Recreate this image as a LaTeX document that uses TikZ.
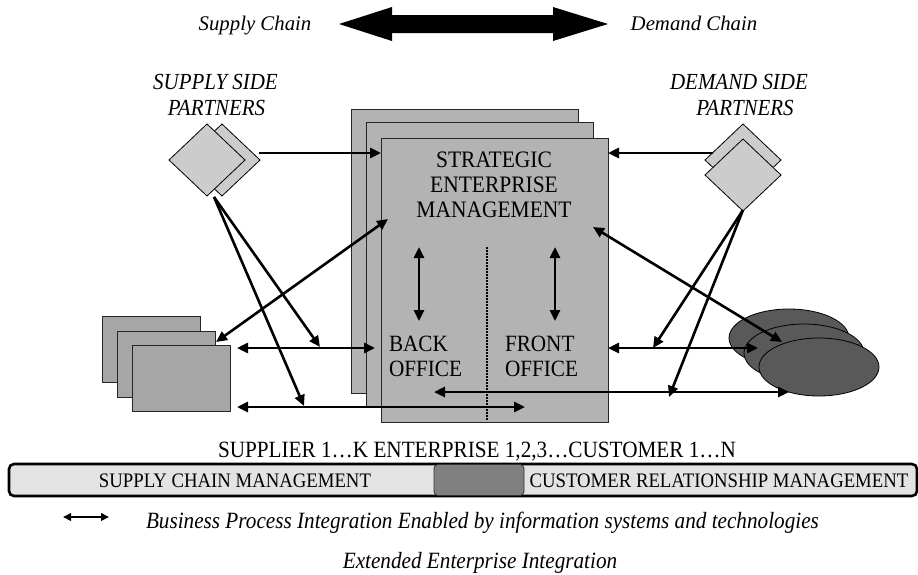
\documentclass[tikz,border=0pt]{standalone}
\usepackage{fontspec}
\setmainfont{Liberation Serif}[FakeStretch=0.91]
\newfontfamily\chainfont{Liberation Serif}
\usetikzlibrary{arrows.meta,shapes.geometric}
\definecolor{diam}{HTML}{CCCCCC}
\definecolor{entbox}{HTML}{B3B3B3}
\definecolor{supbox}{HTML}{A6A6A6}
\definecolor{custell}{HTML}{595959}
\definecolor{barlight}{HTML}{E3E3E3}
\definecolor{barmid}{HTML}{808080}

\begin{document}
\begin{tikzpicture}[x=1pt,y=-1pt,
  every node/.style={inner sep=0pt, outer sep=0pt},
  flow/.style={line width=2.6pt, -{Triangle[length=11pt,width=10pt]}},
  flowtwo/.style={line width=2.6pt, {Triangle[length=11pt,width=10pt]}-{Triangle[length=11pt,width=10pt]}},
  partner/.style={shape=diamond, draw=black, line width=0.8pt, fill=diam,
    minimum width=76pt, minimum height=72pt},
  entpage/.style={rectangle, draw=black!85, line width=1pt, fill=entbox,
    minimum width=227pt, minimum height=284pt},
  suppage/.style={rectangle, draw=black!85, line width=1pt, fill=supbox,
    minimum width=98pt, minimum height=66pt},
  custblob/.style={ellipse, draw=black, line width=0.8pt, fill=custell,
    minimum width=120pt, minimum height=58pt},
  itl/.style={anchor=base, font=\fontsize{23}{27}\selectfont\itshape},
  chainlbl/.style={anchor=base, font=\chainfont\fontsize{20.8}{24}\selectfont\itshape},
  caps/.style={anchor=base, font=\fontsize{23.3}{27}\selectfont},
  entlbl/.style={anchor=base, font=\fontsize{23.6}{27}\selectfont},
  barlbl/.style={anchor=base, font=\fontsize{20.6}{24}\selectfont},
  legend/.style={anchor=base, font=\fontsize{23.3}{27}\selectfont\itshape}
]
\useasboundingbox (0,0) rectangle (918,574);

% ---- top: supply chain <-> demand chain ----
\node[chainlbl] (sc) at (255,30) {Supply Chain};
\node[chainlbl] (dc) at (694,30) {Demand Chain};
\fill[black] (339,24) -- (392,7) -- (392,15) -- (553,15) -- (553,7) -- (608,24)
  -- (553,41) -- (553,33) -- (392,33) -- (392,41) -- cycle;

% ---- partner labels ----
\node[itl] (ssd1) at (215.5,89) {SUPPLY SIDE};
\node[itl] (ssd2) at (216.5,115) {PARTNERS};
\node[itl] (dsd1) at (739,89) {DEMAND SIDE};
\node[itl] (dsd2) at (745,115) {PARTNERS};

% ---- supply side partners (diamonds) ----
\node[partner] (sp2) at (222,160) {};
\node[partner] (sp1) at (207,160) {};

% ---- demand side partners (diamonds) ----
\node[partner] (dp2) at (743,160) {};
\node[partner] (dp1) at (743,175) {};

% ---- enterprise pages ----
\node[entpage] (ent3) at (464.5,251) {};
\node[entpage] (ent2) at (479.5,264.5) {};
\node[entpage] (ent1) at (494.5,280) {};

\node[entlbl] (t1) at (494,167) {STRATEGIC};
\node[entlbl] (t2) at (494,192) {ENTERPRISE};
\node[entlbl] (t3) at (494,217) {MANAGEMENT};

\node[caps, anchor=base west] (bo1) at (389,351) {BACK};
\node[caps, anchor=base west] (bo2) at (389,376) {OFFICE};
\node[caps, anchor=base west] (fo1) at (505,351) {FRONT};
\node[caps, anchor=base west] (fo2) at (505,376) {OFFICE};

% back/front office divider
\coordinate (divtop) at (487,247);
\coordinate (divbot) at (487,421);
\draw[line width=1.6pt, dash pattern=on 1.5pt off 1.5pt] (divtop) -- (divbot);

% ---- supplier pages ----
\node[suppage] (su3) at (151,349) {};
\node[suppage] (su2) at (166,364) {};
\node[suppage] (su1) at (181,378.5) {};

% ---- customer blobs ----
\node[custblob] (cu3) at (789,338) {};
\node[custblob] (cu2) at (804,353) {};
\node[custblob] (cu1) at (819,367) {};

% ---- connector end points ----
\coordinate (spR) at (259,153);
\coordinate (spB) at (214,197);
\coordinate (dpL) at (713,153);
\coordinate (dpB) at (743,210);
\coordinate (entL) at (381,153);
\coordinate (entR) at (608,153);
\coordinate (semL) at (388,219);
\coordinate (semR) at (593,227);
\coordinate (suTop) at (216,342);
\coordinate (cuIn) at (782,342);
\coordinate (boL) at (375,348);
\coordinate (foR) at (608,348);
\coordinate (suA) at (237,348);
\coordinate (suB) at (237,407);
\coordinate (cuA) at (758,348);
\coordinate (lowL) at (434,392);
\coordinate (lowR) at (789,392);
\coordinate (midR) at (525,407);
\coordinate (dgA) at (320,347);
\coordinate (dgB) at (304,406);
\coordinate (dgC) at (653,348);
\coordinate (dgD) at (669,397);
\coordinate (vbT) at (419,247);
\coordinate (vbB) at (419,321);
\coordinate (vfT) at (555,247);
\coordinate (vfB) at (555,321);

% ---- connectors ----
\draw[flow] (spR) -- (entL);
\draw[flow] (dpL) -- (entR);
\draw[flowtwo] (semL) -- (suTop);
\draw[flowtwo] (semR) -- (cuIn);
\draw[flow] (spB) -- (dgA);
\draw[flow] (spB) -- (dgB);
\draw[flow] (dpB) -- (dgC);
\draw[flow] (dpB) -- (dgD);
\draw[flowtwo] (suA) -- (boL);
\draw[flowtwo] (suB) -- (midR);
\draw[flowtwo] (foR) -- (cuA);
\draw[flowtwo] (lowL) -- (lowR);
\draw[flowtwo] (vbT) -- (vbB);
\draw[flowtwo] (vfT) -- (vfB);

% ---- bottom band ----
\node[caps] (scope) at (477,457) {SUPPLIER 1\dots K ENTERPRISE 1,2,3\dots CUSTOMER 1\dots N};
\draw[line width=2.6pt, rounded corners=5pt, fill=barlight] (9,464) rectangle (917,496);
\node[rectangle, rounded corners=4pt, draw=black!80, line width=0.8pt, fill=barmid,
  minimum width=90pt, minimum height=31pt] (core) at (479,480) {};
\node[barlbl] (scm) at (235,487) {SUPPLY CHAIN MANAGEMENT};
\node[barlbl] (crm) at (719,487) {CUSTOMER RELATIONSHIP MANAGEMENT};

% ---- legend ----
\coordinate (lgA) at (63,517);
\coordinate (lgB) at (109,517);
\draw[line width=2pt, {Triangle[length=8pt,width=7.5pt]}-{Triangle[length=8pt,width=7.5pt]}] (lgA) -- (lgB);
\node[legend, anchor=base west] (lgtxt) at (146,528) {Business Process Integration Enabled by information systems and technologies};
\node[legend] (eei) at (480,568) {Extended Enterprise Integration};
\end{tikzpicture}
\end{document}
